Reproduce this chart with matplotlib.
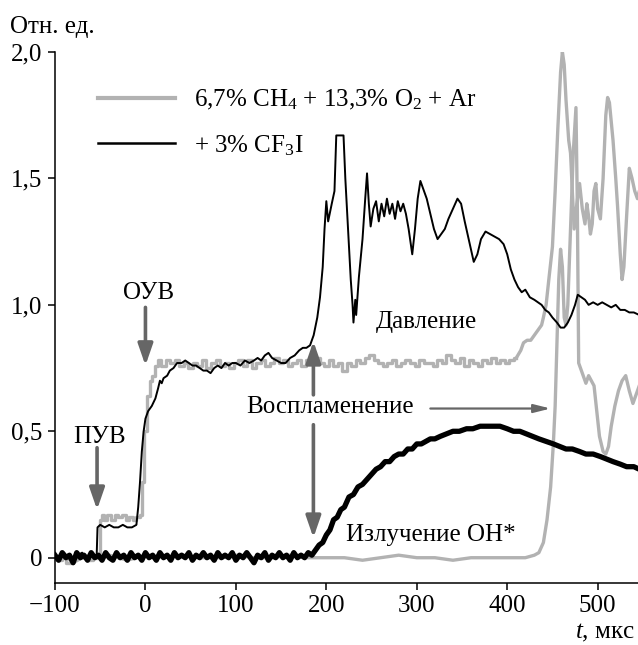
import matplotlib
matplotlib.use("Agg")
import matplotlib.pyplot as plt

plt.rcParams['font.family'] = ['Liberation Serif', 'DejaVu Serif']
plt.rcParams['mathtext.fontset'] = 'custom'
plt.rcParams['mathtext.rm'] = 'Liberation Serif'
plt.rcParams['mathtext.it'] = 'Liberation Serif:italic'

# ---------------- data ----------------
# Pressure, 6.7% CH4 + 13.3% O2 + Ar (grey)
t_p_gray = [-100, -95, -90, -85, -80, -75, -70, -65, -60, -55, -51, -50, -47, -44, -40, -36, -32,
            -28, -24, -20, -16, -12, -8, -5, -3, 0, 3, 6, 9, 12, 15, 20, 25, 30, 35, 40, 45, 50,
            55, 60, 65, 70, 75, 80, 85, 90, 95, 100, 105, 110, 115, 120, 125, 130, 135, 140, 145,
            150, 155, 160, 165, 170, 175, 180, 185, 190, 195, 200, 205, 210, 215, 220, 225, 230,
            235, 240, 245, 250, 255, 260, 265, 270, 275, 280, 285, 290, 295, 300, 305, 310, 315,
            320, 325, 330, 335, 340, 345, 350, 355, 360, 365, 370, 375, 380, 385, 390, 395, 400,
            405, 410, 415, 418, 422, 426, 430, 434, 438, 440, 443, 446, 450, 453, 456, 459, 461,
            463, 465, 468, 470, 472, 474, 477, 480, 483, 486, 488, 490, 492, 494, 496, 498, 500,
            503, 506, 509, 511, 513, 517, 520, 522, 525, 527, 529, 532, 535, 538, 541, 544, 546]
p_gray = [0.0, -0.01, 0.01, -0.02, -0.01, 0.0, 0.01, 0.0, -0.01, 0.0, 0.0, 0.15, 0.17, 0.15, 0.17,
          0.15, 0.17, 0.16, 0.17, 0.15, 0.16, 0.15, 0.16, 0.17, 0.3, 0.5, 0.64, 0.7, 0.72, 0.76,
          0.78, 0.76, 0.78, 0.77, 0.78, 0.76, 0.77, 0.75, 0.77, 0.76, 0.78, 0.75, 0.77, 0.78,
          0.76, 0.77, 0.75, 0.77, 0.78, 0.76, 0.78, 0.75, 0.77, 0.78, 0.76, 0.77, 0.79, 0.77,
          0.78, 0.76, 0.77, 0.78, 0.76, 0.78, 0.77, 0.79, 0.77, 0.76, 0.78, 0.76, 0.77, 0.74,
          0.77, 0.76, 0.78, 0.77, 0.79, 0.80, 0.78, 0.77, 0.76, 0.77, 0.78, 0.76, 0.77, 0.78,
          0.77, 0.76, 0.78, 0.77, 0.77, 0.76, 0.78, 0.77, 0.80, 0.78, 0.77, 0.79, 0.76, 0.78,
          0.77, 0.76, 0.78, 0.77, 0.79, 0.77, 0.78, 0.77, 0.78, 0.79, 0.82, 0.85, 0.86, 0.86,
          0.88, 0.90, 0.92, 0.95, 1.0, 1.1, 1.23, 1.45, 1.7, 1.92, 2.0, 1.95, 1.81, 1.65, 1.6,
          1.45, 1.3, 1.4, 1.48, 1.38, 1.32, 1.4, 1.35, 1.28, 1.32, 1.45, 1.48, 1.38, 1.34, 1.5,
          1.75, 1.82, 1.8, 1.65, 1.5, 1.39, 1.2, 1.1, 1.15, 1.35, 1.54, 1.5, 1.45, 1.42, 1.45]

# Pressure, + 3% CF3I (black)
t_p_black = [-100, -95, -90, -85, -80, -75, -70, -65, -60, -55, -54, -53, -50, -45, -40, -35, -30,
             -25, -20, -15, -10, -8, -6, -4, -2, 0, 3, 7, 11, 14, 16, 18, 20, 24, 27, 31, 35, 40,
             44, 48, 52, 56, 60, 64, 68, 72, 76, 80, 84, 88, 92, 96, 100, 105, 110, 115, 120, 124,
             128, 132, 136, 140, 145, 150, 155, 160, 165, 170, 174, 178, 182, 186, 190, 193, 196,
             198, 200, 202, 206, 209, 211, 219, 221, 224, 227, 229, 230, 232, 233, 236, 240, 243,
             245, 247, 249, 252, 255, 258, 261, 264, 267, 270, 273, 276, 279, 282, 285, 288, 291,
             295, 298, 301, 304, 307, 311, 315, 319, 323, 327, 331, 335, 340, 345, 349, 353, 358,
             363, 367, 371, 376, 381, 386, 391, 396, 400, 404, 408, 412, 416, 420, 425, 430, 434,
             438, 442, 446, 450, 455, 459, 463, 467, 471, 475, 478, 482, 486, 490, 495, 500, 505,
             510, 515, 520, 525, 530, 535, 540, 546]
p_black = [0.01, -0.01, 0.02, 0.0, -0.02, 0.01, 0.02, -0.01, 0.01, 0.0, 0.0, 0.12, 0.13, 0.12,
           0.13, 0.12, 0.12, 0.13, 0.12, 0.12, 0.13, 0.2, 0.3, 0.42, 0.5, 0.55, 0.58, 0.6, 0.63,
           0.67, 0.7, 0.69, 0.71, 0.72, 0.74, 0.75, 0.77, 0.77, 0.78, 0.77, 0.76, 0.76, 0.75,
           0.74, 0.74, 0.73, 0.75, 0.76, 0.75, 0.77, 0.76, 0.77, 0.77, 0.76, 0.78, 0.77, 0.78,
           0.79, 0.78, 0.80, 0.81, 0.79, 0.78, 0.77, 0.77, 0.79, 0.80, 0.82, 0.83, 0.83, 0.84,
           0.88, 0.95, 1.03, 1.15, 1.3, 1.41, 1.33, 1.40, 1.45, 1.67, 1.67, 1.5, 1.3, 1.1, 1.0,
           0.93, 1.02, 0.96, 1.11, 1.26, 1.42, 1.52, 1.4, 1.31, 1.38, 1.41, 1.33, 1.4, 1.35,
           1.42, 1.36, 1.4, 1.34, 1.41, 1.37, 1.4, 1.36, 1.3, 1.2, 1.3, 1.42, 1.49, 1.46, 1.42,
           1.36, 1.3, 1.26, 1.28, 1.3, 1.34, 1.38, 1.42, 1.4, 1.33, 1.25, 1.17, 1.2, 1.26, 1.29,
           1.28, 1.27, 1.26, 1.24, 1.2, 1.14, 1.1, 1.07, 1.05, 1.06, 1.03, 1.02, 1.01, 1.0, 0.98,
           0.97, 0.95, 0.93, 0.91, 0.91, 0.93, 0.96, 1.0, 1.04, 1.03, 1.02, 1.0, 1.01, 1.0, 1.01,
           1.0, 0.99, 1.0, 0.98, 0.98, 0.97, 0.97, 0.96]

# OH* emission, grey mixture
t_oh_gray = [-100, -90, -80, -70, -60, -50, -40, -30, -20, -10, 0, 20, 40, 60, 80, 100, 120, 140,
             160, 180, 200, 220, 240, 260, 280, 300, 320, 340, 360, 380, 400, 420, 430, 435, 440,
             444, 448, 451, 453, 455, 457, 459, 461, 463, 465, 467, 470, 473, 476, 477.5, 479,
             483, 487, 490, 493, 496, 499, 502, 506, 509, 512, 515, 519, 523, 527, 531, 535, 539,
             542, 546]
oh_gray = [0.0, 0.01, -0.02, 0.0, 0.01, 0.0, 0.01, 0.0, -0.01, 0.0, 0.01, 0.0, 0.01, 0.0, 0.0,
           0.01, 0.0, 0.0, 0.01, 0.0, 0.0, 0.0, -0.01, 0.0, 0.01, 0.0, 0.0, -0.01, 0.0, 0.0, 0.0,
           0.0, 0.01, 0.02, 0.06, 0.15, 0.28, 0.45, 0.6, 0.85, 1.1, 1.22, 1.15, 0.95, 0.92, 1.0,
           1.3, 1.6, 1.78, 1.4, 0.77, 0.73, 0.69, 0.72, 0.7, 0.68, 0.58, 0.48, 0.42, 0.41, 0.44,
           0.52, 0.6, 0.66, 0.7, 0.72, 0.66, 0.61, 0.64, 0.68]

# OH* emission, + 3% CF3I (black, noisy)
t_oh_black = [-100, -96, -92, -88, -84, -80, -76, -72, -68, -64, -60, -56, -52, -48, -44, -40,
              -36, -32, -28, -24, -20, -16, -12, -8, -4, 0, 4, 8, 12, 16, 20, 24, 28, 32, 36, 40,
              44, 48, 52, 56, 60, 64, 68, 72, 76, 80, 84, 88, 92, 96, 100, 104, 108, 112, 116,
              120, 124, 128, 132, 136, 140, 144, 148, 152, 156, 160, 164, 168, 172, 176, 180, 184,
              188, 192, 196, 200, 204, 208, 212, 216, 220, 225, 230, 235, 240, 245, 250, 255, 260,
              265, 270, 275, 280, 285, 290, 295, 300, 305, 310, 315, 320, 326, 333, 340, 347, 355,
              362, 370, 378, 385, 392, 400, 407, 414, 421, 428, 435, 443, 451, 458, 465, 472, 480,
              487, 495, 503, 510, 517, 525, 532, 540, 546]
oh_black = [0.01, -0.01, 0.02, 0.0, 0.01, -0.02, 0.02, 0.0, 0.01, -0.01, 0.02, 0.0, 0.01, -0.01,
            0.02, 0.0, -0.01, 0.02, 0.0, 0.01, -0.01, 0.02, 0.0, 0.01, -0.01, 0.02, 0.0, 0.01,
            -0.01, 0.02, 0.0, 0.01, -0.01, 0.02, 0.0, 0.01, 0.0, 0.02, -0.01, 0.01, 0.0, 0.02,
            0.0, 0.01, -0.01, 0.02, 0.0, 0.01, 0.0, 0.02, -0.01, 0.01, 0.0, 0.02, 0.0, -0.02,
            0.01, 0.0, 0.02, -0.01, 0.01, 0.0, 0.02, 0.0, 0.01, -0.01, 0.02, 0.0, 0.01, 0.0,
            0.02, 0.01, 0.03, 0.05, 0.06, 0.09, 0.11, 0.15, 0.16, 0.19, 0.2, 0.24, 0.25, 0.28,
            0.29, 0.31, 0.33, 0.35, 0.36, 0.38, 0.38, 0.40, 0.41, 0.41, 0.43, 0.43, 0.45, 0.45,
            0.46, 0.47, 0.47, 0.48, 0.49, 0.50, 0.50, 0.51, 0.51, 0.52, 0.52, 0.52, 0.52, 0.51,
            0.50, 0.50, 0.49, 0.48, 0.47, 0.46, 0.45, 0.44, 0.43, 0.43, 0.42, 0.41, 0.41, 0.40,
            0.39, 0.38, 0.37, 0.36, 0.36, 0.35]

x_ticks = [-100, 0, 100, 200, 300, 400, 500]
x_tick_labels = ['\u2212100', '0', '100', '200', '300', '400', '500']
y_ticks = [0, 0.5, 1.0, 1.5, 2.0]
y_tick_labels = ['0', '0,5', '1,0', '1,5', '2,0']
legend_labels = ['6,7% CH$_4$ + 13,3% O$_2$ + Ar', '+ 3% CF$_3$I']

# ---------------- plot ----------------
W, H = 638, 645
fig = plt.figure(figsize=(W / 100, H / 100), dpi=100)
ax = fig.add_axes([55 / W, (H - 583) / H, 1 - 55 / W, (583 - 52) / H])

gray = '#b2b2b2'
dark = '#666666'

# quantized plateau part drawn as steps, fast post-ignition part as plain line
k = t_p_gray.index(410)
ax.plot(t_oh_gray, oh_gray, color=gray, lw=2.4, solid_joinstyle='round')
ln_g, = ax.plot(t_p_gray[:k + 1], p_gray[:k + 1], color=gray, lw=2.4, drawstyle='steps-mid')
ax.plot(t_p_gray[k:], p_gray[k:], color=gray, lw=2.4, solid_joinstyle='round')
ax.plot(t_oh_black, oh_black, color='black', lw=3.8, solid_joinstyle='round')
ln_b, = ax.plot(t_p_black, p_black, color='black', lw=1.4, solid_joinstyle='round')

ax.set_xlim(-100, 544.6)
ax.set_ylim(-0.1, 2.0)

for s in ['top', 'right']:
    ax.spines[s].set_visible(False)
for s in ['left', 'bottom']:
    ax.spines[s].set_linewidth(1.1)

ax.set_xticks(x_ticks)
ax.set_xticklabels(x_tick_labels)
ax.set_yticks(y_ticks)
ax.set_yticklabels(y_tick_labels)
ax.tick_params(axis='both', direction='out', length=5, width=1.1, labelsize=18, pad=4)

# legend
leg = ax.legend([ln_g, ln_b], legend_labels, loc='upper left', bbox_to_anchor=(0.035, 0.975),
                frameon=False, fontsize=18, handlelength=3.1, handletextpad=0.75,
                labelspacing=0.85)
leg.get_lines()[0].set_linewidth(3.0)
leg.get_lines()[0].set_drawstyle('default')
leg.get_lines()[1].set_linewidth(1.8)

# annotations
def varrow(x, y0, y1, lw=2.6, hw=0.45, hl=1.3):
    ax.annotate('', xy=(x, y1), xytext=(x, y0),
                arrowprops=dict(arrowstyle=f'-|>,head_width={hw},head_length={hl}',
                                color=dark, lw=lw, shrinkA=0, shrinkB=0))

varrow(-53.5, 0.435, 0.19)
varrow(0, 0.99, 0.76)
varrow(185.7, 0.644, 0.856)
varrow(185.7, 0.526, 0.079)
ax.annotate('', xy=(448, 0.59), xytext=(315, 0.59),
            arrowprops=dict(arrowstyle='-|>,head_width=0.25,head_length=1.0',
                            color=dark, lw=1.6, shrinkA=0, shrinkB=0))

fs = 18
ax.text(-51.3, 0.478, 'ПУВ', fontsize=fs, ha='center', va='center')
ax.text(4, 1.047, 'ОУВ', fontsize=fs, ha='center', va='center')
ax.text(204.5, 0.597, 'Воспламенение', fontsize=fs, ha='center', va='center')
ax.text(311, 0.933, 'Давление', fontsize=fs, ha='center', va='center')
ax.text(316, 0.091, 'Излучение ОН*', fontsize=fs, ha='center', va='center')

fig.text(10 / W, 1 - 27 / H, 'Отн. ед.', fontsize=fs, ha='left', va='center')
fig.text(635 / W, 1 - 633 / H, '$t$, мкс', fontsize=fs, ha='right', va='center')

fig.savefig('out.png', dpi=100)
